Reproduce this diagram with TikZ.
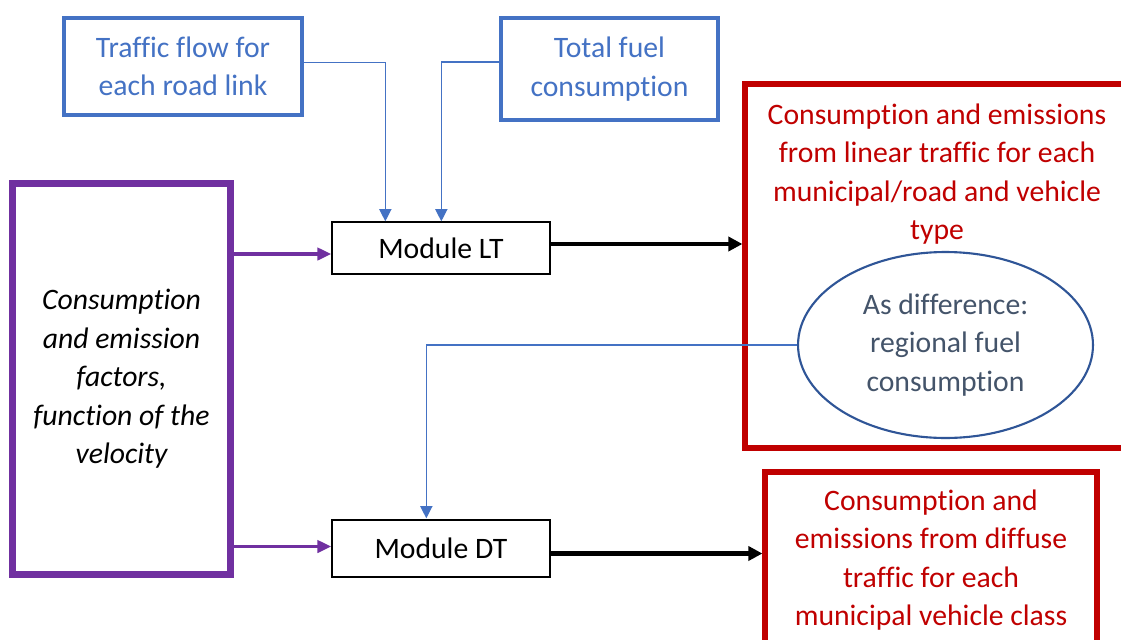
\documentclass[tikz,border=0pt]{standalone}
\usepackage{fontspec}
\setmainfont{Carlito}[Ligatures=NoCommon]
\usetikzlibrary{arrows.meta, positioning, shapes.geometric, calc}
\definecolor{inblue}{HTML}{4472C4}
\definecolor{facpurple}{HTML}{7030A0}
\definecolor{outred}{HTML}{C00000}
\definecolor{ellblue}{HTML}{2F5597}
\definecolor{elltext}{HTML}{44546A}

\begin{document}
\begin{tikzpicture}
  [x=0.02cm, y=-0.02cm,
  every node/.style={font=\fontsize{16.9}{21.9}\selectfont, align=center},
  inbox/.style={rectangle, draw=inblue, line width=2.3pt, text=inblue},
  module/.style={rectangle, draw=black, line width=0.8pt, minimum width=4.36cm},
  outbox/.style={rectangle, draw=outred, line width=3pt, text=outred},
  feed/.style={inblue, line width=0.7pt, -{Triangle[length=7pt,width=7pt]}},
  flow/.style={black, line width=2.3pt, -{Triangle[length=8pt,width=8pt]}},
  factor/.style={facpurple, line width=2pt, -{Triangle[length=8pt,width=7pt]}}]

\clip (0,0) rectangle (1121,639);
\fill[white] (0,0) rectangle (1121,639);

% Inputs on top
\node[inbox, minimum width=4.76cm, minimum height=1.94cm] (flow) at (183, 66.5) {Traffic flow for\\each road link};
\node[inbox, minimum width=4.34cm, minimum height=2.04cm] (fuel) at (609.5, 69) {Total fuel\\consumption};

% Factors box
\node[rectangle, draw=facpurple, line width=4pt, minimum width=4.38cm, minimum height=7.84cm,
  font=\fontsize{16.9}{21.9}\selectfont\itshape] (fac) at (121.5, 379) {Consumption\\and emission\\factors,\\function of the\\velocity};

% Modules
\node[module, minimum height=1.04cm] (lt) at (441, 248) {Module LT};
\node[module, minimum height=1.14cm] (dt) at (441, 548.5) {Module DT};

% Outputs
\node[outbox, minimum width=7.68cm, minimum height=7.28cm] (lin) at (937, 266) {};
\node[text=outred] (lintxt) at (937, 174) {Consumption and emissions\\from linear traffic for each\\municipal/road and vehicle\\type};
\node[ellipse, draw=ellblue, line width=1.2pt, minimum width=5.9cm, minimum height=3.72cm, inner sep=0pt,
  text=elltext] (diff) at (945.5, 345) {As difference:\\regional fuel\\consumption};
\node[outbox, minimum width=6.64cm, minimum height=3.52cm] (dif) at (931, 560) {Consumption and\\emissions from diffuse\\traffic for each\\municipal vehicle class};

% Connectors
\draw[feed] ($(flow.east)+(0,-4)$) -| ($(lt.north west)+(54,0)$);
\draw[feed] ($(fuel.west)+(0,-7)$) -| ($(lt.north west)+(110,0)$);
\draw[feed] (diff.west) -| ($(dt.north west)+(95,-1)$);
\draw[factor] (lt.west -| fac.east) ++(0,6) -- ($(lt.west)+(0,6)$);
\draw[factor] ($(dt.west -| fac.east)+(0,-2)$) -- ($(dt.west)+(0,-2)$);
\draw[flow] ($(lt.east)+(0,-4)$) -- ($(lt.east -| lin.west)+(0,-4)$);
\draw[flow] ($(dt.east)+(0,5)$) -- ($(dt.east -| dif.west)+(0,5)$);

\end{tikzpicture}
\end{document}
